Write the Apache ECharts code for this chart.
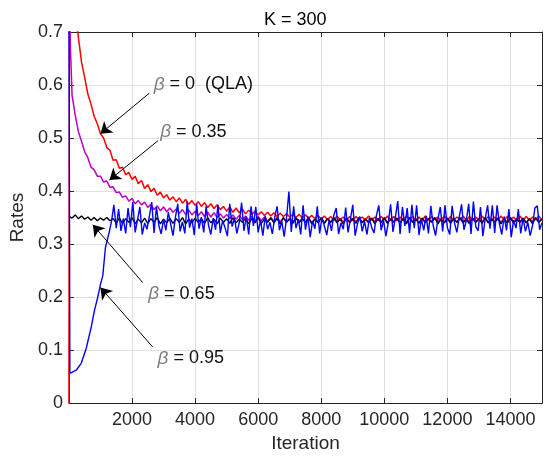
<!DOCTYPE html>
<html><head><meta charset="utf-8">
<script src="https://cdn.jsdelivr.net/npm/echarts@6/dist/echarts.min.js"></script>
<style>html,body{margin:0;padding:0;background:#fff}#c{width:546px;height:458px}</style>
</head><body><div id="c"></div>
<script>
// ---------- axes ----------
const X_MIN = 0, X_MAX = 15000, X_INTERVAL = 2000;
const Y_MIN = 0, Y_MAX = 0.7, Y_INTERVAL = 0.1;
const xTickLabels = ['2000','4000','6000','8000','10000','12000','14000'];
const yTickLabels = ['0','0.1','0.2','0.3','0.4','0.5','0.6','0.7'];
const titleText = 'K = 300';
const xName = 'Iteration';
const yName = 'Rates';

// ---------- data (iteration sampling grid: start/step) ----------
const GRID_STEP = 100;

// beta = 0 (QLA), red
const redHeadIter = [0, 20];
const redHeadRate = [0.0, 1.0];
const redRate = [ // iterations 100..15000
0.860,0.745,0.690,0.643,0.614,0.583,0.564,0.541,0.527,0.508,
0.500,0.482,0.477,0.458,0.459,0.443,0.445,0.431,0.435,0.422,
0.428,0.414,0.420,0.405,0.412,0.399,0.405,0.392,0.398,0.387,
0.393,0.383,0.389,0.380,0.387,0.377,0.384,0.375,0.382,0.373,
0.380,0.371,0.378,0.369,0.376,0.367,0.374,0.365,0.371,0.362,
0.370,0.360,0.368,0.359,0.366,0.357,0.364,0.356,0.362,0.355,
0.361,0.354,0.360,0.353,0.359,0.352,0.358,0.352,0.357,0.351,
0.356,0.350,0.356,0.349,0.355,0.349,0.354,0.348,0.354,0.347,
0.353,0.346,0.352,0.345,0.353,0.346,0.351,0.345,0.352,0.344,
0.352,0.346,0.351,0.345,0.353,0.345,0.351,0.344,0.352,0.346,
0.353,0.345,0.352,0.344,0.351,0.345,0.353,0.346,0.352,0.344,
0.351,0.345,0.353,0.345,0.352,0.346,0.351,0.344,0.353,0.345,
0.352,0.345,0.351,0.346,0.353,0.344,0.352,0.345,0.351,0.345,
0.353,0.346,0.352,0.344,0.351,0.345,0.353,0.345,0.352,0.346,
0.351,0.344,0.353,0.345,0.352,0.345,0.351,0.346,0.353,0.345];

// beta = 0.35, magenta
const magentaHeadIter = [0, 50];
const magentaHeadRate = [0.780, 0.667];
const magentaRate = [ // iterations 100..15000
0.580,0.543,0.512,0.494,0.474,0.463,0.445,0.440,0.428,0.428,
0.417,0.419,0.407,0.408,0.397,0.398,0.388,0.391,0.381,0.386,
0.376,0.382,0.374,0.379,0.369,0.375,0.365,0.372,0.363,0.370,
0.361,0.368,0.360,0.366,0.358,0.365,0.356,0.364,0.355,0.362,
0.354,0.361,0.352,0.360,0.351,0.359,0.350,0.357,0.349,0.356,
0.348,0.355,0.347,0.354,0.346,0.353,0.345,0.352,0.344,0.352,
0.344,0.351,0.343,0.350,0.343,0.350,0.342,0.349,0.342,0.349,
0.341,0.349,0.342,0.348,0.341,0.349,0.340,0.348,0.342,0.349,
0.340,0.348,0.341,0.349,0.342,0.348,0.341,0.349,0.340,0.348,
0.342,0.349,0.341,0.348,0.340,0.349,0.342,0.348,0.341,0.349,
0.341,0.348,0.342,0.349,0.340,0.348,0.341,0.349,0.342,0.348,
0.340,0.349,0.341,0.348,0.342,0.349,0.341,0.348,0.340,0.349,
0.342,0.348,0.341,0.349,0.340,0.348,0.342,0.349,0.341,0.348,
0.341,0.349,0.340,0.348,0.342,0.349,0.341,0.348,0.340,0.349,
0.342,0.348,0.341,0.349,0.340,0.348,0.342,0.349,0.341,0.348];

// beta = 0.65, black
const blackRate = [ // iterations 0..15000
0.352,0.349,0.355,0.348,0.353,0.347,0.351,0.345,0.350,0.344,
0.349,0.345,0.350,0.344,0.348,0.340,0.349,0.339,0.348,0.341,
0.350,0.338,0.347,0.340,0.349,0.339,0.348,0.341,0.350,0.338,
0.347,0.340,0.349,0.339,0.348,0.341,0.350,0.338,0.347,0.340,
0.349,0.341,0.348,0.339,0.350,0.340,0.347,0.338,0.349,0.341,
0.348,0.339,0.350,0.340,0.347,0.341,0.349,0.338,0.348,0.340,
0.350,0.339,0.347,0.341,0.349,0.340,0.348,0.338,0.350,0.341,
0.347,0.339,0.349,0.340,0.348,0.341,0.350,0.338,0.347,0.340,
0.349,0.339,0.348,0.341,0.350,0.340,0.347,0.338,0.349,0.341,
0.348,0.339,0.350,0.340,0.347,0.341,0.349,0.338,0.348,0.340,
0.350,0.339,0.347,0.341,0.349,0.340,0.348,0.338,0.350,0.341,
0.347,0.339,0.349,0.340,0.348,0.341,0.350,0.338,0.347,0.340,
0.349,0.339,0.348,0.341,0.350,0.340,0.347,0.338,0.349,0.341,
0.348,0.339,0.350,0.340,0.347,0.341,0.349,0.338,0.348,0.340,
0.350,0.339,0.347,0.341,0.349,0.340,0.348,0.338,0.350,0.341,
0.347];

// beta = 0.95, blue
const blueHeadIter = [0, 30, 73, 230, 390, 547, 705, 810, 915, 1000, 1073, 1157, 1283, 1357];
const blueHeadRate = [0.800, 0.056, 0.053, 0.062, 0.075, 0.103, 0.143, 0.175, 0.200, 0.224, 0.240, 0.293, 0.324, 0.345];
const BLUE_START = 1425, BLUE_STEP = 75;
const blueRate = [ // iterations 1425..15000 step 75
0.374,0.330,0.366,0.325,0.348,0.320,0.368,0.332,0.379,0.322,
0.346,0.370,0.318,0.340,0.328,0.352,0.379,0.321,0.370,0.335,
0.319,0.347,0.326,0.360,0.338,0.316,0.350,0.376,0.324,0.342,
0.320,0.380,0.331,0.348,0.317,0.376,0.329,0.351,0.322,0.371,
0.336,0.318,0.349,0.327,0.374,0.321,0.344,0.331,0.315,0.376,
0.333,0.349,0.320,0.340,0.378,0.325,0.352,0.318,0.371,0.334,
0.370,0.322,0.345,0.316,0.353,0.328,0.341,0.319,0.350,0.371,
0.326,0.343,0.314,0.349,0.399,0.323,0.371,0.330,0.347,0.318,
0.373,0.327,0.352,0.313,0.344,0.329,0.371,0.320,0.350,0.334,
0.317,0.346,0.325,0.355,0.368,0.319,0.340,0.328,0.369,0.322,
0.347,0.374,0.316,0.338,0.352,0.324,0.343,0.318,0.349,0.331,
0.321,0.354,0.373,0.326,0.345,0.315,0.340,0.375,0.323,0.350,
0.381,0.319,0.370,0.334,0.368,0.321,0.374,0.330,0.373,0.317,
0.348,0.326,0.353,0.320,0.372,0.335,0.316,0.347,0.370,0.324,
0.373,0.331,0.318,0.372,0.340,0.322,0.351,0.375,0.327,0.344,
0.376,0.319,0.380,0.333,0.325,0.370,0.315,0.348,0.373,0.329,
0.373,0.321,0.373,0.338,0.318,0.352,0.326,0.366,0.313,0.345,
0.330,0.366,0.320,0.349,0.324,0.341,0.316,0.335,0.368,0.372,
0.327,0.340];

// annotations (data coordinates of text start, arrow tail, arrow tip)
const annoBeta = ['β', 'β', 'β', 'β'];
const annoRest = [' = 0  (QLA)', ' = 0.35', ' = 0.65', ' = 0.95'];
const annoTextAt = [[2686, 0.601], [2894, 0.511], [2515, 0.2056], [2812, 0.0841]];
const annoFrom = [[2547, 0.5845], [2821, 0.4948], [2338, 0.2275], [2654, 0.106]];
const annoTo = [[998, 0.508], [1283, 0.4206], [758, 0.3364], [998, 0.218]];

// ---------- build ----------
function gridPairs(start, step, rates) { return rates.map((r, i) => [start + i * step, r]); }
function headPairs(iters, rates) { return iters.map((x, i) => [x, rates[i]]); }

const redData = headPairs(redHeadIter, redHeadRate).concat(gridPairs(GRID_STEP, GRID_STEP, redRate));
const magentaData = headPairs(magentaHeadIter, magentaHeadRate).concat(gridPairs(GRID_STEP, GRID_STEP, magentaRate));
const blackData = gridPairs(0, GRID_STEP, blackRate);
const blueData = headPairs(blueHeadIter, blueHeadRate).concat(gridPairs(BLUE_START, BLUE_STEP, blueRate));

const FONT = '"Liberation Sans", Arial, Helvetica, sans-serif';
const AX = '#262626';

function lineSeries(name, data, color, width) {
  return { name, type: 'line', data, showSymbol: false, symbol: 'none', clip: true,
    lineStyle: { color, width }, itemStyle: { color }, animation: false, silent: true };
}

const chart = echarts.init(document.getElementById('c'), null, { renderer: 'canvas' });
const commonX = { type: 'value', min: X_MIN, max: X_MAX, interval: X_INTERVAL };
const commonY = { type: 'value', min: Y_MIN, max: Y_MAX, interval: Y_INTERVAL };

chart.setOption({
  animation: false,
  backgroundColor: '#fff',
  title: { text: titleText, left: 259, top: 6,
    textStyle: { fontFamily: FONT, fontSize: 18, fontWeight: 'normal', color: '#000' } },
  grid: { left: 68, right: 4, top: 32, bottom: 51, containLabel: false },
  xAxis: [
    Object.assign({}, commonX, {
      position: 'bottom', name: xName, nameLocation: 'middle', nameGap: 30,
      nameTextStyle: { fontFamily: FONT, fontSize: 19, color: AX },
      axisLine: { show: true, onZero: false, lineStyle: { color: AX, width: 1 } },
      axisTick: { show: true, inside: true, length: 5, lineStyle: { color: AX } },
      axisLabel: { show: true, margin: 8, fontFamily: FONT, fontSize: 18, color: AX,
        showMinLabel: true, showMaxLabel: true,
        formatter: v => { const s = String(Math.round(v)); return xTickLabels.includes(s) ? s : ''; } },
      splitLine: { show: true, lineStyle: { color: '#e0e0e0', width: 1 } }
    }),
    Object.assign({}, commonX, {
      position: 'top',
      axisLine: { show: true, onZero: false, lineStyle: { color: AX, width: 1 } },
      axisTick: { show: true, inside: true, length: 5, lineStyle: { color: AX } },
      axisLabel: { show: false }, splitLine: { show: false }
    })
  ],
  yAxis: [
    Object.assign({}, commonY, {
      position: 'left', name: yName, nameLocation: 'middle', nameGap: 36, nameRotate: 90,
      nameTextStyle: { fontFamily: FONT, fontSize: 19, color: AX },
      axisLine: { show: true, onZero: false, lineStyle: { color: AX, width: 1 } },
      axisTick: { show: true, inside: true, length: 5, lineStyle: { color: AX } },
      axisLabel: { show: true, margin: 6, fontFamily: FONT, fontSize: 18, color: AX,
        formatter: v => yTickLabels[Math.round(v / Y_INTERVAL)] },
      splitLine: { show: true, lineStyle: { color: '#e0e0e0', width: 1 } }
    }),
    Object.assign({}, commonY, {
      position: 'right',
      axisLine: { show: true, onZero: false, lineStyle: { color: AX, width: 1 } },
      axisTick: { show: true, inside: true, length: 5, lineStyle: { color: AX } },
      axisLabel: { show: false }, splitLine: { show: false }
    })
  ],
  series: [
    lineSeries('beta=0.35', magentaData, '#c000c0', 1.5),
    lineSeries('beta=0', redData, '#ff0000', 1.5),
    lineSeries('beta=0.65', blackData, '#000000', 1.4),
    lineSeries('beta=0.95', blueData, '#0000ff', 1.4),
    {
      name: 'annotations', type: 'line', data: [], z: 10, silent: true, animation: false,
      markLine: {
        silent: true, animation: false, symbol: ['none', 'arrow'], symbolSize: 11,
        label: { show: false },
        lineStyle: { color: '#000', width: 1, type: 'solid' },
        emphasis: { disabled: true },
        data: annoFrom.map((f, i) => [{ coord: f }, { coord: annoTo[i] }])
      },
      markPoint: {
        silent: true, animation: false, symbol: 'circle', symbolSize: 0,
        itemStyle: { color: 'transparent' },
        data: annoTextAt.map((p, i) => ({
          coord: p,
          label: {
            show: true, position: 'right', distance: 0,
            formatter: '{b|' + annoBeta[i] + '}{t|' + annoRest[i] + '}',
            rich: {
              b: { fontFamily: FONT, fontStyle: 'italic', fontSize: 19, color: '#808080' },
              t: { fontFamily: FONT, fontSize: 18, color: '#111' }
            }
          }
        }))
      }
    }
  ]
});
</script></body></html>
